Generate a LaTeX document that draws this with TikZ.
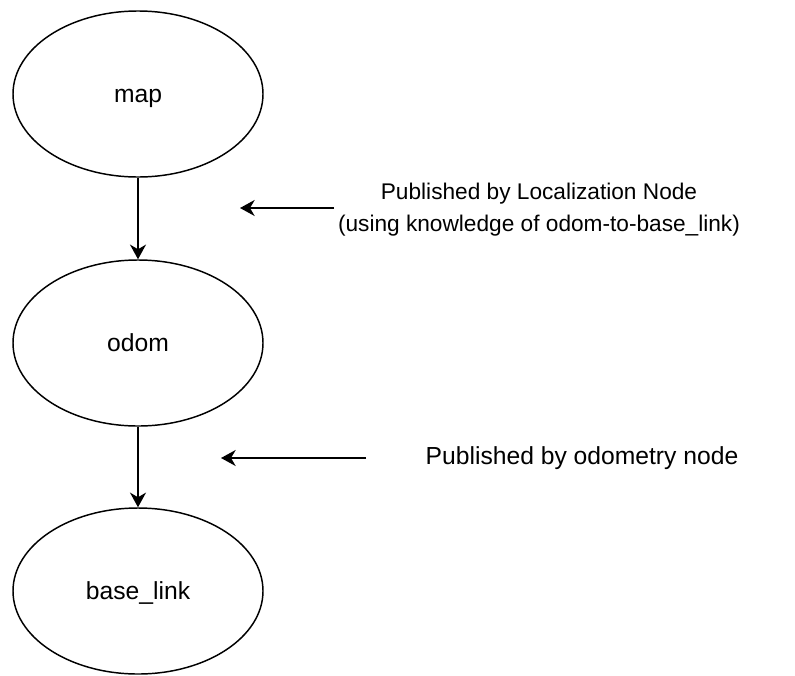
\documentclass[tikz,border=0pt]{standalone}
\usepackage{fontspec}
\setmainfont{Liberation Sans}
\usetikzlibrary{arrows.meta,shapes.geometric}
\begin{document}
\begin{tikzpicture}[x=0.75pt,y=-0.75pt,
  ell/.style={draw, ellipse, line width=1.1pt, minimum width=187.5pt, minimum height=124.5pt, inner sep=0pt, text height=13pt, text depth=1pt, font=\fontsize{18.5}{24}\selectfont},
  lbl/.style={align=center, font=\fontsize{17}{24}\selectfont},
  arr/.style={line width=1.3pt, -{Stealth[length=11pt,width=12pt,inset=3.5pt]}}]
\path[use as bounding box] (0,0) rectangle (795,675);
\node[ell] (map) at (138,94) {map};
\node[ell] (odom) at (138,343) {odom};
\node[ell] (base) at (138,591) {base\_link};
\draw[arr] (map.south) -- (odom.north);
\draw[arr] (odom.south) -- (base.north);
\coordinate (a1s) at (334,208);
\coordinate (a1e) at (240,208);
\coordinate (a2s) at (366,458);
\coordinate (a2e) at (221,458);
\draw[arr] (a1s) -- (a1e);
\draw[arr] (a2s) -- (a2e);
\node[lbl] (t1) at (539,210) {Published by Localization Node\\(using knowledge of odom-to-base\_link)};
\node[lbl, font=\fontsize{18.5}{24}\selectfont] (t2) at (582,458) {Published by odometry node};
\end{tikzpicture}
\end{document}
